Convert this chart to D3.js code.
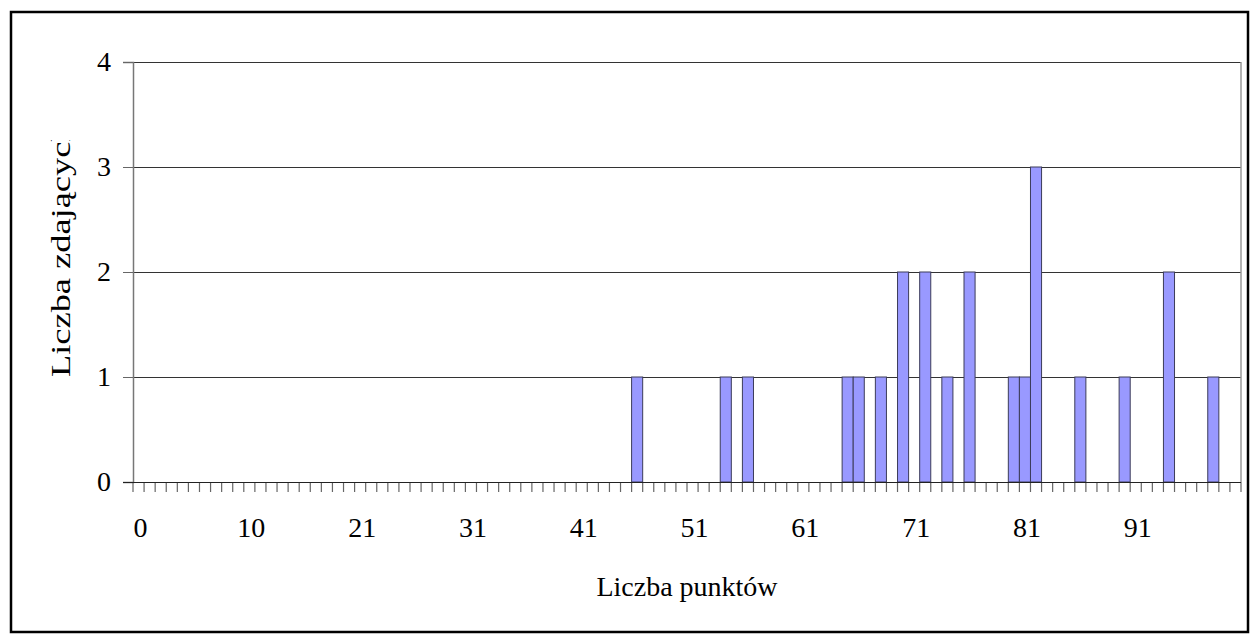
<!DOCTYPE html>
<html>
<head>
<meta charset="utf-8">
<script src="https://cdn.jsdelivr.net/npm/d3@7"></script>
<style>
  body { margin: 0; background: #fff; }
  svg { display: block; }
  text { font-family: "Liberation Serif", "Times New Roman", serif; fill: #000; }
</style>
</head>
<body>
<svg id="chart" width="1251" height="635"></svg>
<script>
// score categories on the x axis (one value is missing between 10 and 21)
const categories = [0, 1, 2, 3, 4, 5, 6, 7, 8, 9, 10,
    12, 13, 14, 15, 16, 17, 18, 19, 20, 21, 22, 23, 24, 25, 26, 27, 28, 29, 30,
    31, 32, 33, 34, 35, 36, 37, 38, 39, 40, 41, 42, 43, 44, 45, 46, 47, 48, 49, 50,
    51, 52, 53, 54, 55, 56, 57, 58, 59, 60, 61, 62, 63, 64, 65, 66, 67, 68, 69, 70,
    71, 72, 73, 74, 75, 76, 77, 78, 79, 80, 81, 82, 83, 84, 85, 86, 87, 88, 89, 90,
    91, 92, 93, 94, 95, 96, 97, 98, 99, 100];

// scores that occurred and how many students got them
const scores = [46, 54, 56, 65, 66, 68, 70, 72, 74, 76, 80, 81, 82, 86, 90, 94, 98];
const counts = [1, 1, 1, 1, 1, 1, 2, 2, 1, 2, 1, 1, 3, 1, 1, 2, 1];

const xLabels = [0, 10, 21, 31, 41, 51, 61, 71, 81, 91];
const yTicks = [0, 1, 2, 3, 4];

const svg = d3.select('#chart');
const plotLeft = 133, plotRight = 1241, plotTop = 62, plotBottom = 482;

const x = d3.scaleBand().domain(categories).range([plotLeft, plotRight]).padding(0);
const y = d3.scaleLinear().domain([0, 4]).range([plotBottom, plotTop]);

// outer frame
svg.append('rect')
    .attr('x', 11).attr('y', 12)
    .attr('width', 1237).attr('height', 620)
    .attr('fill', '#fff')
    .attr('stroke', '#000')
    .attr('stroke-width', 2.5);

// horizontal gridlines
svg.append('g')
    .selectAll('line')
    .data(yTicks.slice(1))
    .enter()
    .append('line')
    .attr('x1', plotLeft - 10).attr('x2', plotRight)
    .attr('y1', d => Math.round(y(d)) + 0.5)
    .attr('y2', d => Math.round(y(d)) + 0.5)
    .attr('stroke', '#333')
    .attr('stroke-width', 1);

// right edge of the plot area
svg.append('line')
    .attr('x1', plotRight).attr('x2', plotRight)
    .attr('y1', plotTop).attr('y2', plotBottom)
    .attr('stroke', '#999')
    .attr('stroke-width', 1.5);

// bars
const data = scores.map((s, i) => ({ score: s, count: counts[i] }));
svg.append('g')
    .selectAll('rect')
    .data(data)
    .enter()
    .append('rect')
    .attr('x', d => x(d.score))
    .attr('y', d => y(d.count))
    .attr('width', x.bandwidth())
    .attr('height', d => y(0) - y(d.count))
    .attr('fill', '#9999ff')
    .attr('stroke', '#3c3c5a')
    .attr('stroke-width', 1);

// y axis
const yAxis = svg.append('g')
    .attr('transform', `translate(${plotLeft},0)`)
    .call(d3.axisLeft(y).tickValues(yTicks).tickSize(10).tickPadding(12).tickFormat(d3.format('d')));
yAxis.select('.domain').attr('stroke', '#777').attr('stroke-width', 1.5);
yAxis.selectAll('.tick line').attr('stroke', '#666');
yAxis.selectAll('.tick text')
    .style('font-size', '28px')
    .style('font-family', '"Liberation Serif", serif')
    .attr('fill', '#000');

// x axis: labels centred on every tenth category
const xAxis = svg.append('g')
    .attr('transform', `translate(0,${plotBottom})`)
    .call(d3.axisBottom(x).tickValues(xLabels).tickSize(0).tickPadding(35));
xAxis.select('.domain').remove();
xAxis.selectAll('.tick text')
    .attr('dx', 2)
    .style('font-size', '28px')
    .style('font-family', '"Liberation Serif", serif')
    .attr('fill', '#000');

// tick marks on category boundaries
const edges = categories.map(c => x(c)).concat([plotRight]);
svg.append('g')
    .selectAll('line')
    .data(edges)
    .enter()
    .append('line')
    .attr('x1', d => d).attr('x2', d => d)
    .attr('y1', plotBottom).attr('y2', plotBottom + 10)
    .attr('stroke', '#666')
    .attr('stroke-width', 1.2);

svg.append('line')
    .attr('x1', plotLeft - 10).attr('x2', plotRight)
    .attr('y1', plotBottom + 0.5).attr('y2', plotBottom + 0.5)
    .attr('stroke', '#222')
    .attr('stroke-width', 1.2);

// axis titles
svg.append('text')
    .attr('x', (plotLeft + plotRight) / 2)
    .attr('y', 596)
    .attr('text-anchor', 'middle')
    .style('font-size', '28px')
    .text('Liczba punktów');

svg.append('clipPath')
    .attr('id', 'yclip')
    .append('rect')
    .attr('x', 0).attr('y', 140)
    .attr('width', 120).attr('height', 300);

svg.append('g')
    .attr('clip-path', 'url(#yclip)')
    .append('text')
    .attr('transform', 'translate(70,377) rotate(-90) scale(1.3,1)')
    .attr('text-anchor', 'start')
    .style('font-size', '28px')
    .text('Liczba zdających');
</script>
</body>
</html>
